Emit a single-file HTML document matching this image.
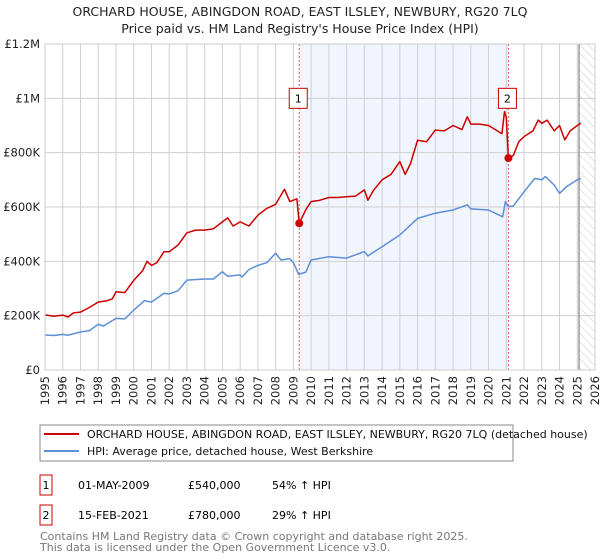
<!DOCTYPE html>
<html><head><meta charset="utf-8">
<style>
body{margin:0;background:#fff;font-family:"DejaVu Sans","Liberation Sans",sans-serif;}
#wrap{position:relative;width:600px;height:560px;overflow:hidden;}
svg text{font-family:"DejaVu Sans","Liberation Sans",sans-serif;}
</style></head>
<body>
<div id="wrap">
<svg id="chart" width="600" height="560">
<text x="300" y="16" text-anchor="middle" font-size="12.5" fill="#222">ORCHARD HOUSE, ABINGDON ROAD, EAST ILSLEY, NEWBURY, RG20 7LQ</text>
<text x="300" y="33" text-anchor="middle" font-size="12.5" fill="#222">Price paid vs. HM Land Registry's House Price Index (HPI)</text>
<g id="plot"></g>
<rect x="40" y="425" width="473" height="36" fill="none" stroke="#888"/>
<line x1="44" y1="434" x2="79" y2="434" stroke="#cc0000" stroke-width="2"/>
<text x="87" y="438" font-size="11" fill="#111">ORCHARD HOUSE, ABINGDON ROAD, EAST ILSLEY, NEWBURY, RG20 7LQ (detached house)</text>
<line x1="44" y1="451" x2="79" y2="451" stroke="#5b8fd6" stroke-width="2"/>
<text x="87" y="455" font-size="11" fill="#111">HPI: Average price, detached house, West Berkshire</text>
<rect x="40" y="475" width="12" height="20" fill="#fff" stroke="#cc0000"/>
<text x="46" y="489" text-anchor="middle" font-size="11">1</text>
<text x="78" y="489" font-size="11">01-MAY-2009</text>
<text x="188" y="489" font-size="11">£540,000</text>
<text x="272" y="489" font-size="11">54% ↑ HPI</text>
<rect x="40" y="505" width="12" height="20" fill="#fff" stroke="#cc0000"/>
<text x="46" y="519" text-anchor="middle" font-size="11">2</text>
<text x="78" y="519" font-size="11">15-FEB-2021</text>
<text x="188" y="519" font-size="11">£780,000</text>
<text x="272" y="519" font-size="11">29% ↑ HPI</text>
<text x="40" y="540" font-size="11" fill="#777">Contains HM Land Registry data © Crown copyright and database right 2025.</text>
<text x="40" y="551" font-size="11" fill="#777">This data is licensed under the Open Government Licence v3.0.</text>
</svg>
</div>
<script>
const yTicks=[0,200,400,600,800,1000,1200];
const yTickLabels=["£0","£200K","£400K","£600K","£800K","£1M","£1.2M"];
const years=[1995,1996,1997,1998,1999,2000,2001,2002,2003,2004,2005,2006,2007,2008,2009,2010,2011,2012,2013,2014,2015,2016,2017,2018,2019,2020,2021,2022,2023,2024,2025,2026];
const redT=[1995,1995.5,1996,1996.3,1996.6,1997,1997.5,1998,1998.5,1998.8,1999,1999.5,2000,2000.5,2000.75,2001,2001.3,2001.7,2002,2002.5,2003,2003.5,2004,2004.5,2005,2005.3,2005.6,2006,2006.5,2007,2007.5,2008,2008.5,2008.8,2009,2009.2,2009.33,2009.7,2010,2010.5,2011,2011.5,2012,2012.5,2013,2013.2,2013.5,2014,2014.5,2015,2015.3,2015.6,2016,2016.5,2017,2017.5,2018,2018.5,2018.8,2019,2019.5,2020,2020.5,2020.75,2020.9,2021.0,2021.12,2021.4,2021.7,2022,2022.5,2022.8,2023,2023.3,2023.7,2024,2024.3,2024.6,2025,2025.2];
const redV=[203,198,202,195,210,213,230,250,255,262,288,285,330,365,400,385,395,435,435,460,505,515,515,520,545,560,530,545,530,570,595,610,665,620,625,630,540,590,620,625,635,635,638,640,663,625,660,700,720,767,720,760,846,840,883,880,900,885,932,905,905,900,880,870,951,930,780,790,840,859,880,920,908,920,880,900,847,880,900,908];
const blueT=[1995,1995.5,1996,1996.3,1997,1997.5,1998,1998.3,1999,1999.5,2000,2000.6,2001,2001.7,2002,2002.5,2003,2004,2004.5,2005,2005.3,2006,2006.1,2006.5,2007,2007.5,2008,2008.3,2008.8,2009,2009.3,2009.7,2010,2011,2012,2013,2013.2,2014,2015,2016,2017,2018,2018.8,2019,2020,2020.8,2020.95,2021.12,2021.4,2022,2022.6,2023,2023.2,2023.7,2024,2024.4,2025,2025.2];
const blueV=[129,127,131,128,140,145,168,162,190,188,220,255,250,282,280,292,331,335,335,362,345,350,342,370,385,395,430,405,410,395,352,360,405,417,412,436,420,454,497,558,577,589,608,593,589,564,620,601,604,656,705,700,712,681,650,675,700,705];
const sales=[{t:2009.33,v:540,label:"1"},{t:2021.12,v:780,label:"2"}];
const X0=45,X1=595,Y0=370,Y1=44;
function xs(t){return X0+(t-1995)/(2026-1995)*(X1-X0);}
function ys(v){return Y0-v/1200*(Y0-Y1);}
const g=document.getElementById('plot');
const NS='http://www.w3.org/2000/svg';
function el(tag,attrs){const e=document.createElementNS(NS,tag);for(const k in attrs)e.setAttribute(k,attrs[k]);g.appendChild(e);return e;}
// shaded region between sales
let sh=el('rect',{x:xs(sales[0].t),y:Y1,width:xs(sales[1].t)-xs(sales[0].t),height:Y0-Y1,fill:'#eef3fd',opacity:0.8});


// hatch
const defs=el('defs',{});
defs.innerHTML='<pattern id="hatch" width="6" height="6" patternUnits="userSpaceOnUse" patternTransform="rotate(-45)"><line x1="0" y1="0" x2="0" y2="6" stroke="#ccc" stroke-width="1"/></pattern>';
let ht=el('rect',{x:xs(2025.1),y:Y1,width:X1-xs(2025.1),height:Y0-Y1,fill:'url(#hatch)'});


// grid
years.forEach(y=>{let l=el('line',{x1:xs(y),x2:xs(y),y1:Y1,y2:Y0,stroke:'#d0d0d0','stroke-width':1});


let t=el('text',{x:0,y:0,'font-size':11.5,fill:'#222','text-anchor':'end',transform:`translate(${xs(y)+4},${Y0+6}) rotate(-90)`});
t.textContent=y;

});
yTicks.forEach((v,i)=>{let l=el('line',{x1:X0,x2:X1,y1:ys(v),y2:ys(v),stroke:'#d0d0d0','stroke-width':1});


let t=el('text',{x:X0-5,y:ys(v)+4,'font-size':11.5,fill:'#222','text-anchor':'end'});
t.textContent=yTickLabels[i];

});
let vl=el('line',{x1:xs(2025.1),x2:xs(2025.1),y1:Y1,y2:Y0,stroke:'#999','stroke-width':1.5});


// sale markers lines
sales.forEach(s=>{let l=el('line',{x1:xs(s.t),x2:xs(s.t),y1:Y1,y2:Y0,stroke:'#e06060','stroke-width':1,'stroke-dasharray':'2,2'});

});
function path(T,V,color,name){let d=T.map((t,i)=>(i?'L':'M')+xs(t).toFixed(1)+','+ys(V[i]).toFixed(1)).join('');
let p=el('path',{d:d,fill:'none',stroke:color,'stroke-width':1.5,'stroke-linejoin':'round'});

}
path(blueT,blueV,'#5b8fd6','hpi-line');
path(redT,redV,'#cc0000','property-line');
sales.forEach(s=>{let c=el('circle',{cx:xs(s.t),cy:ys(s.v),r:4,fill:'#cc0000'});


let r=el('rect',{x:xs(s.t)-10,y:ys(1000)-10,width:18,height:20,fill:'#fff',stroke:'#cc0000'});


let t=el('text',{x:xs(s.t)-1,y:ys(1000)+4,'font-size':11,'text-anchor':'middle'});
t.textContent=s.label;

});
let fr=el('rect',{x:X0,y:Y1,width:X1-X0,height:Y0-Y1,fill:'none',stroke:'#ccc'});


</script>
</body></html>
